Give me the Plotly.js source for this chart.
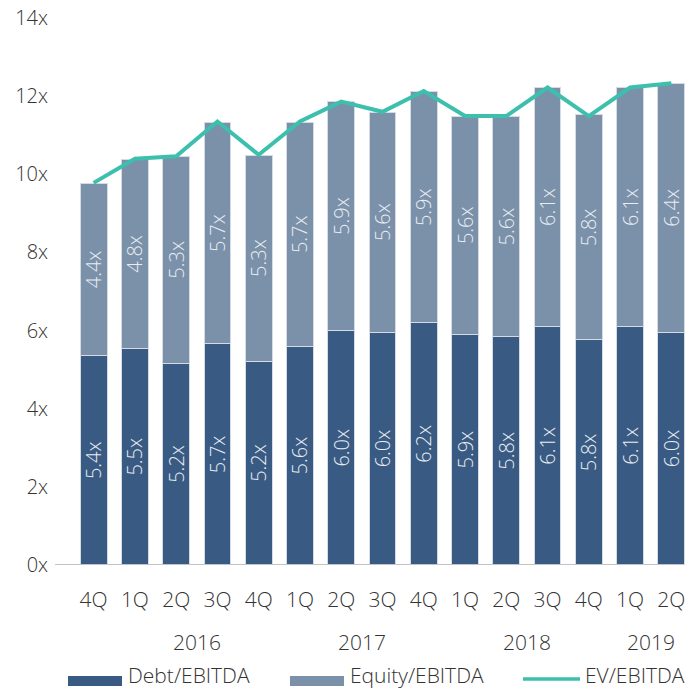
<!DOCTYPE html>
<html><head><meta charset="utf-8">
<script src="https://cdn.plot.ly/plotly-3.0.1.min.js"></script>
<style>html,body{margin:0;padding:0;background:#fff}#c{width:699px;height:690px}</style>
</head><body><div id="c"></div>
<script>
const quarters = ['4Q','1Q','2Q','3Q','4Q','1Q','2Q','3Q','4Q','1Q','2Q','3Q','4Q','1Q','2Q'];
const yearOf   = ['2015','2016','2016','2016','2016','2017','2017','2017','2017','2018','2018','2018','2018','2019','2019'];
const yearLabels = ['2016','2017','2018','2019'];
const debt   = [5.36,5.54,5.17,5.66,5.22,5.60,6.00,5.96,6.20,5.90,5.84,6.10,5.76,6.10,5.96];
const equity = [4.41,4.84,5.28,5.67,5.27,5.73,5.86,5.63,5.91,5.59,5.64,6.12,5.76,6.12,6.36];
const ev     = [9.78,10.40,10.46,11.35,10.50,11.35,11.86,11.60,12.13,11.49,11.49,12.22,11.49,12.22,12.33];

const idx = quarters.map((_, i) => i);
const fmt = v => (Math.round(v * 10) / 10).toFixed(1) + 'x';
const FONT = 'Open Sans, Noto Sans, sans-serif';
const W = 300;
const TXT = '#333333';
const C_DEBT = '#395b83', C_EQ = '#7b91aa', C_EV = '#3dbfae';

const barCommon = {
  type: 'bar', x: idx, width: 0.65,
  textposition: 'inside', insidetextanchor: 'middle', textangle: -90,
  constraintext: 'none', cliponaxis: false,
  textfont: {family: FONT, size: 20, color: '#e9edf2', weight: W},
  hoverinfo: 'skip', showlegend: false
};
const traces = [
  Object.assign({}, barCommon, {y: debt, text: debt.map(fmt), marker: {color: C_DEBT, line: {color: '#d5dbe3', width: 1}}, name: 'Debt/EBITDA'}),
  Object.assign({}, barCommon, {y: equity, text: equity.map(fmt), marker: {color: C_EQ, line: {color: '#d5dbe3', width: 1}}, name: 'Equity/EBITDA'}),
  {type: 'scatter', mode: 'lines', x: idx, y: ev, line: {color: C_EV, width: 4}, name: 'EV/EBITDA', showlegend: false, hoverinfo: 'skip'}
];

// plot box in pixels
const L = 73, R = 692, T = 18, B = 565;
const px2x = p => (p - L) / (R - L);
const py2y = p => (B - p) / (B - T);

const annotations = yearLabels.map(y => {
  const ii = idx.filter(i => yearOf[i] === y);
  const cx = ii.reduce((a, b) => a + b, 0) / ii.length;
  return {x: cx, xref: 'x', y: py2y(642), yref: 'paper', text: y, showarrow: false,
          xanchor: 'center', yanchor: 'middle', font: {family: FONT, size: 21, color: TXT, weight: W}};
});

const legendItems = [
  {name: 'Debt/EBITDA', kind: 'rect', color: C_DEBT, x0: 68, x1: 122, tx: 126},
  {name: 'Equity/EBITDA', kind: 'rect', color: C_EQ, x0: 290, x1: 344, tx: 348},
  {name: 'EV/EBITDA', kind: 'line', color: C_EV, x0: 523, x1: 580, tx: 583}
];
const shapes = [];
legendItems.forEach(it => {
  if (it.kind === 'rect') {
    shapes.push({type: 'rect', xref: 'paper', yref: 'paper', x0: px2x(it.x0), x1: px2x(it.x1),
      y0: py2y(686), y1: py2y(676), fillcolor: it.color, line: {width: 0}});
  } else {
    shapes.push({type: 'line', xref: 'paper', yref: 'paper', x0: px2x(it.x0), x1: px2x(it.x1),
      y0: py2y(679), y1: py2y(679), line: {color: it.color, width: 3.5}});
  }
  annotations.push({x: px2x(it.tx), xref: 'paper', y: py2y(675), yref: 'paper', text: it.name,
    showarrow: false, xanchor: 'left', yanchor: 'middle', font: {family: FONT, size: 21, color: TXT, weight: W}});
});

const layout = {
  width: 699, height: 690,
  margin: {l: L, r: 699 - R, t: T, b: 690 - B, pad: 0},
  paper_bgcolor: '#fff', plot_bgcolor: '#fff',
  barmode: 'stack', showlegend: false,
  font: {family: FONT, size: 18, color: TXT},
  xaxis: {
    range: [-0.5, 14.5], tickmode: 'array', tickvals: idx, ticktext: quarters,
    showgrid: false, zeroline: false, showline: false, ticks: '',
    ticklabelstandoff: 20, tickfont: {family: FONT, size: 21, color: TXT, weight: W}
  },
  yaxis: {
    range: [0, 14], dtick: 2, ticksuffix: 'x', showgrid: false, zeroline: false,
    showline: false, ticks: '', ticklabelstandoff: 24,
    tickfont: {family: FONT, size: 20, color: TXT, weight: W}
  },
  shapes: shapes.concat([{type: 'line', xref: 'paper', yref: 'y', x0: px2x(55), x1: px2x(684), y0: 0, y1: 0,
    line: {color: '#bfc4cc', width: 2}, layer: 'above'}]),
  annotations: annotations
};
Plotly.newPlot('c', traces, layout, {staticPlot: true, displayModeBar: false});
</script></body></html>
